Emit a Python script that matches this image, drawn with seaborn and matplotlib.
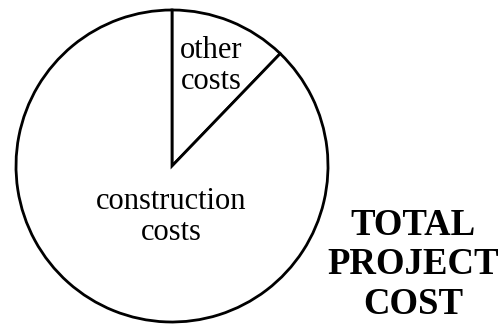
import matplotlib
matplotlib.use('Agg')
import seaborn as sns
from matplotlib import pyplot as plt

# cost shares (percent of total project cost)
categories = ['other\ncosts', 'construction\ncosts']
shares = [12.2, 87.8]
title_lines = ['TOTAL', 'PROJECT', 'COST']

sns.set_theme(style='white')
plt.rcParams['font.family'] = ['Liberation Serif', 'DejaVu Serif']

fig = plt.figure(figsize=(5.03, 3.24), dpi=100)
ax = fig.add_axes([0, 0, 1, 1])

wedges, _ = ax.pie(shares, startangle=90, counterclock=False,
                   center=(172, 158), radius=156, frame=True,
                   wedgeprops=dict(facecolor='white', edgecolor='black', linewidth=2.0))
ax.set_xlim(0, 503)
ax.set_ylim(0, 324)
ax.set_aspect('equal')
ax.axis('off')

ax.text(211, 258, categories[0], ha='center', va='center', fontsize=22,
        linespacing=1.05, color='black')
ax.text(171, 107, categories[1], ha='center', va='center', fontsize=22,
        linespacing=1.05, color='black')

ax.text(413, 59, '\n'.join(title_lines), ha='center', va='center', fontsize=26.5,
        fontweight='bold', linespacing=1.15, color='black')

fig.savefig('out.png', dpi=100, facecolor='white')
